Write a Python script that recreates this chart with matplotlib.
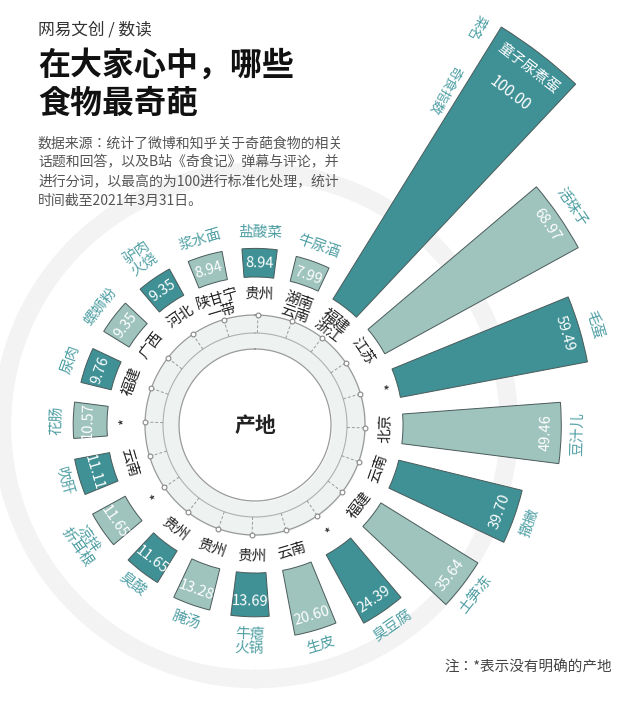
import numpy as np
import matplotlib
matplotlib.use("Agg")
import matplotlib.pyplot as plt
from matplotlib import font_manager as fm

cjk = [f for f in fm.findSystemFonts() if "CJK" in f or "cjk" in f.lower()]
for f in cjk:
    try:
        fm.fontManager.addfont(f)
    except Exception:
        pass
names_avail = sorted({e.name for e in fm.fontManager.ttflist if "CJK" in e.name})
plt.rcParams["font.family"] = ["Noto Sans CJK SC"] + names_avail + ["DejaVu Sans"]

names = ["童子尿煮蛋", "活珠子", "毛蛋", "豆汁儿", "撒撇", "土笋冻", "臭豆腐", "生皮",
         "牛瘪\n火锅", "腌汤", "臭酸", "凉拌\n折耳根", "吹肝", "花肠", "尿肉", "螺蛳粉",
         "驴肉\n火烧", "浆水面", "盐酸菜", "牛尿酒"]
values = [100.00, 68.97, 59.49, 49.46, 39.70, 35.64, 24.39, 20.60, 13.69, 13.28,
          11.65, 11.65, 11.11, 10.57, 9.76, 9.35, 9.35, 8.94, 8.94, 7.99]
regions = ["福建\n浙江", "江苏", "*", "北京", "云南", "福建", "*", "云南", "贵州", "贵州",
           "贵州", "*", "云南", "*", "福建", "广西", "河北", "陕甘宁\n一带", "贵州", "湖南\n云南"]

DARK, LIGHT, NAMEC = "#3f9196", "#9fc4bd", "#4f9fa4"

fig = plt.figure(figsize=(6.4, 7.02), dpi=100)
cx, cy, R = 255, 425, 500
ax = fig.add_axes([(cx - R) / 640, (702 - cy - R) / 702, 2 * R / 640, 2 * R / 702], projection="polar")
ax.set_theta_zero_location("N")
ax.set_theta_direction(-1)
ax.set_ylim(0, R)
ax.axis("off")

n = len(values)
start, step = 37.5, 18.0
ang_deg = np.array([start + i * step for i in range(n)])
theta = np.deg2rad(ang_deg)
base, scale = 148, 3.2

# decorative background
full = np.linspace(0, 2 * np.pi, 400)
ax.fill_between(full, 245, 262, color="#f3f3f3", zorder=0)
ax.fill_between(full, 0, 110, color="#eef3f2", zorder=1)
ax.plot(full, np.full_like(full, 110), color="#9a9a9a", lw=0.9, zorder=2)
ax.plot(full, np.full_like(full, 92), color="#b0b0b0", lw=0.8, zorder=2)
ax.fill_between(full, 0, 76, color="white", zorder=2)
ax.plot(full, np.full_like(full, 76), color="#9a9a9a", lw=0.9, zorder=3)
for t in theta:
    ax.plot([t, t], [92, 110], color="#9a9a9a", lw=0.7, ls=(0, (3, 2)), zorder=3)
ax.scatter(theta, np.full(n, 110), s=12, facecolor="white", edgecolor="#888888", lw=0.8, zorder=4)
ax.text(0, 0, "产地", ha="center", va="center", fontsize=15, fontweight="bold", color="#222222", zorder=5)

heights = np.array(values) * scale
colors = [DARK if i % 2 == 0 else LIGHT for i in range(n)]
ax.bar(theta, heights, bottom=base, width=np.deg2rad(11.5), color=colors,
       edgecolor="#4a5a5a", linewidth=0.7, zorder=5)

def rot(a):
    r = (-a) % 180
    return r - 180 if r > 90 else r

for i in range(n):
    a, t = ang_deg[i], theta[i]
    top = base + heights[i]
    r_ = rot(a)
    if i == 0:
        ax.text(t, top - 18, names[i], rotation=r_, ha="center", va="center",
                color="white", fontsize=10.5, zorder=6)
        ax.text(t, top - 50, f"{values[i]:.2f}", rotation=r_, ha="center", va="center",
                color="white", fontsize=11, zorder=6)
    else:
        ax.text(t, top - 15, f"{values[i]:.2f}", rotation=r_,
                ha="center", va="center", color="white", fontsize=10.5, zorder=6)
        ax.text(t, top + 16 + (8 if "\n" in names[i] else 0), names[i], rotation=r_,
                ha="center", va="center", color=NAMEC, fontsize=10.5, linespacing=1.0, zorder=6)
    ax.text(t, base - 17 - (6 if "\n" in regions[i] else 0), regions[i], rotation=r_,
            ha="center", va="center", color="#222222", fontsize=10.5, linespacing=1.0, zorder=6)

# header beside top bar, running along the bar edge
ha_ang = 29.0
ax.text(np.deg2rad(ha_ang), 455, "菜名", rotation=90 - ha_ang - 180, ha="center", va="center",
        color=NAMEC, fontsize=9.5, zorder=7)
ax.text(np.deg2rad(ha_ang + 0.5), 385, "奇食指数", rotation=90 - ha_ang - 180, ha="center",
        va="center", color=NAMEC, fontsize=9.5, zorder=7)

# titles
fig.text(38 / 640, 1 - 30 / 702, "网易文创 / 数读", fontsize=12, color="#333333", va="center")
fig.text(38 / 640, 1 - 85 / 702, "在大家心中，哪些\n食物最奇葩", fontsize=23, fontweight="bold",
         color="#111111", va="center", linespacing=1.25)
fig.text(38 / 640, 1 - 172 / 702,
         "数据来源：统计了微博和知乎关于奇葩食物的相关\n话题和回答，以及B站《奇食记》弹幕与评论，并\n进行分词，以最高的为100进行标准化处理，统计\n时间截至2021年3月31日。",
         fontsize=10, color="#555555", va="center", linespacing=1.45)
fig.text(612 / 640, 1 - 668 / 702, "注：*表示没有明确的产地", fontsize=10.5, color="#444444",
         ha="right", va="center")

fig.savefig("out.png", dpi=100, facecolor="white")
